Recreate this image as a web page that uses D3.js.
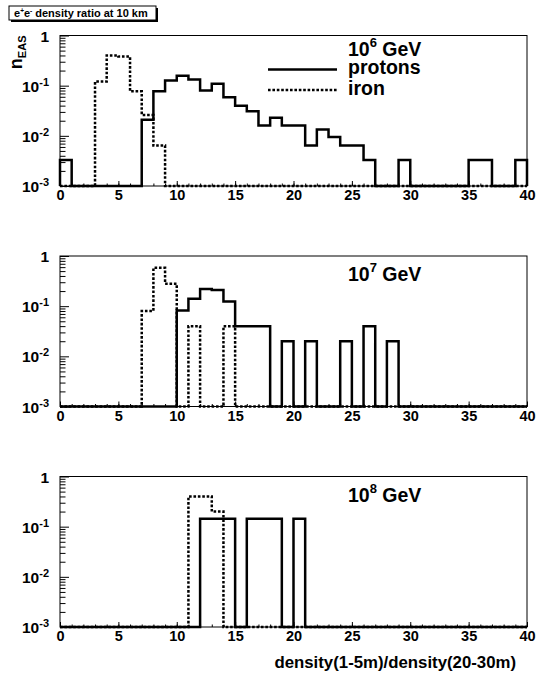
<!DOCTYPE html>
<html>
<head>
<meta charset="utf-8">
<script src="https://cdn.jsdelivr.net/npm/d3@7"></script>
<style>
body { margin: 0; background: #fff; }
svg text { font-family: "Liberation Sans", Arial, sans-serif; font-weight: bold; fill: #000; }
</style>
</head>
<body>
<div id="chart"></div>
<script>
// values per unit bin, 0..40 (n_EAS fraction)
const energyExp = ["6", "7", "8"];
const protons1e6 = [0.0033, 0, 0, 0, 0, 0, 0, 0.021, 0.077, 0.127,
                    0.157, 0.133, 0.08, 0.109, 0.059, 0.04, 0.031, 0.016, 0.023, 0.016,
                    0.016, 0.0064, 0.0134, 0.0095, 0.0064, 0.0064, 0.0033, 0, 0, 0.0033,
                    0, 0, 0, 0, 0, 0.0033, 0.0033, 0, 0, 0.0033];
const iron1e6    = [0, 0, 0, 0.121, 0.40, 0.38, 0.077, 0.026, 0.0064, 0,
                    0, 0, 0, 0, 0, 0, 0, 0, 0, 0,
                    0, 0, 0, 0, 0, 0, 0, 0, 0, 0,
                    0, 0, 0, 0, 0, 0, 0, 0, 0, 0];
const protons1e7 = [0, 0, 0, 0, 0, 0, 0, 0, 0, 0,
                    0.082, 0.14, 0.22, 0.21, 0.124, 0.04, 0.04, 0.04, 0, 0.02,
                    0, 0.02, 0, 0, 0.02, 0, 0.04, 0, 0.02, 0,
                    0, 0, 0, 0, 0, 0, 0, 0, 0, 0];
const iron1e7    = [0, 0, 0, 0, 0, 0, 0, 0.08, 0.58, 0.28,
                    0, 0.04, 0, 0, 0.04, 0, 0, 0, 0, 0,
                    0, 0, 0, 0, 0, 0, 0, 0, 0, 0,
                    0, 0, 0, 0, 0, 0, 0, 0, 0, 0];
const protons1e8 = [0, 0, 0, 0, 0, 0, 0, 0, 0, 0,
                    0, 0, 0.143, 0.143, 0.143, 0, 0.143, 0.143, 0.143, 0,
                    0.143, 0, 0, 0, 0, 0, 0, 0, 0, 0,
                    0, 0, 0, 0, 0, 0, 0, 0, 0, 0];
const iron1e8    = [0, 0, 0, 0, 0, 0, 0, 0, 0, 0,
                    0, 0.4, 0.4, 0.2, 0, 0, 0, 0, 0, 0,
                    0, 0, 0, 0, 0, 0, 0, 0, 0, 0,
                    0, 0, 0, 0, 0, 0, 0, 0, 0, 0];
const xTicks = [0, 5, 10, 15, 20, 25, 30, 35, 40];
const yTicks = [1, 0.1, 0.01, 0.001];
const yTickExp = ["", "-1", "-2", "-3"];
const legendLabels = ["protons", "iron"];
const xTitle = "density(1-5m)/density(20-30m)";

const panels = [
  {exp: energyExp[0], protons: protons1e6, iron: iron1e6, legend: true, labelY: 20},
  {exp: energyExp[1], protons: protons1e7, iron: iron1e7, labelY: 25},
  {exp: energyExp[2], protons: protons1e8, iron: iron1e8, labelY: 25}
];

const W = 537, H = 677;
const left = 60, right = 527, frameH = 150.5;
const tops = [35.5, 256, 476.5];
const yMin = 1e-3;
const dotted = "2.6,1.8";

const svg = d3.select("#chart").append("svg")
  .attr("width", W).attr("height", H);

svg.append("rect").attr("width", W).attr("height", H).attr("fill", "#fff");

// title pave with shadow
svg.append("rect").attr("x", 11).attr("y", 8).attr("width", 147).attr("height", 14).attr("fill", "#000");
svg.append("rect").attr("x", 9).attr("y", 6).attr("width", 147).attr("height", 14)
  .attr("fill", "#fff").attr("stroke", "#000").attr("stroke-width", 1);
const title = svg.append("text").attr("x", 14).attr("y", 17).style("font-size", "11px");
title.append("tspan").text("e");
title.append("tspan").attr("dy", -4).style("font-size", "6.5px").text("+");
title.append("tspan").attr("dy", 4).text("e");
title.append("tspan").attr("dy", -4).style("font-size", "6.5px").text("-");
title.append("tspan").attr("dy", 4).text(" density ratio at 10 km");

const x = d3.scaleLinear().domain([0, 40]).range([left, right]);

panels.forEach(function(p, i) {
  const g = svg.append("g").attr("transform", "translate(0," + tops[i] + ")");
  const y = d3.scaleLog().domain([yMin, 1]).range([frameH, 0]);

  g.append("rect")
    .attr("x", left).attr("y", 0)
    .attr("width", right - left).attr("height", frameH)
    .attr("fill", "none").attr("stroke", "#000").attr("stroke-width", 1);

  const line = d3.line()
    .x(function(d) { return x(d[0]); })
    .y(function(d) { return y(Math.max(d[1], yMin)); });

  function steps(vals) {
    const pts = [[0, 0]];
    vals.forEach(function(v, k) { pts.push([k, v]); pts.push([k + 1, v]); });
    pts.push([40, 0]);
    return pts;
  }

  g.append("path").attr("d", line(steps(p.iron)))
    .attr("fill", "none").attr("stroke", "#000").attr("stroke-width", 2.5)
    .attr("stroke-dasharray", dotted);
  g.append("path").attr("d", line(steps(p.protons)))
    .attr("fill", "none").attr("stroke", "#000").attr("stroke-width", 2.5)
    .attr("stroke-linejoin", "miter");

  // x axis: minor ticks every unit, major every 5
  g.append("g").attr("transform", "translate(0," + frameH + ")")
    .call(d3.axisBottom(x).tickValues(d3.range(0, 41)).tickSize(-2.5).tickFormat(""))
    .call(function(a) { a.select(".domain").remove(); });
  const xa = g.append("g").attr("transform", "translate(0," + frameH + ")")
    .call(d3.axisBottom(x).tickValues(xTicks).tickSize(-5).tickPadding(4).tickFormat(d3.format("d")));
  xa.select(".domain").remove();
  xa.selectAll("text").style("font-size", "14.5px");

  // y axis: log ticks
  const minors = [];
  [-3, -2, -1].forEach(function(d) {
    [2, 3, 4, 5, 6, 7, 8, 9].forEach(function(k) { minors.push(k * Math.pow(10, d)); });
  });
  g.append("g").attr("transform", "translate(" + left + ",0)")
    .call(d3.axisLeft(y).tickValues(minors).tickSize(-5.5).tickFormat(""))
    .call(function(a) { a.select(".domain").remove(); });
  g.append("g").attr("transform", "translate(" + left + ",0)")
    .call(d3.axisLeft(y).tickValues(yTicks).tickSize(-9).tickFormat(""))
    .call(function(a) { a.select(".domain").remove(); });

  yTicks.forEach(function(t, k) {
    const lab = g.append("text").attr("x", 49).attr("y", y(t) + 6)
      .attr("text-anchor", "end").style("font-size", "15.5px");
    if (yTickExp[k] === "") {
      lab.text("1");
    } else {
      lab.append("tspan").text("10");
      lab.append("tspan").attr("dy", -6).style("font-size", "11px").text(yTickExp[k]);
    }
  });

  // energy label
  const el = g.append("text").attr("x", 348).attr("y", p.labelY).style("font-size", "19.5px");
  el.append("tspan").text("10");
  el.append("tspan").attr("dy", -9).style("font-size", "13px").text(p.exp);
  el.append("tspan").attr("dy", 9).text(" GeV");

  if (p.legend) {
    [69.5, 90].forEach(function(ly, k) {
      g.append("line").attr("x1", 268).attr("x2", 337)
        .attr("y1", ly - tops[0]).attr("y2", ly - tops[0])
        .attr("stroke", "#000").attr("stroke-width", 2.5)
        .attr("stroke-dasharray", k === 1 ? dotted : null);
      g.append("text").attr("x", 348).attr("y", ly - tops[0] + 4.5)
        .style("font-size", "19.5px").text(legendLabels[k]);
    });
  }
});

// y title n_EAS
const yt = svg.append("text")
  .attr("transform", "translate(22," + tops[0] + ") rotate(-90)")
  .attr("text-anchor", "end").style("font-size", "18px");
yt.append("tspan").text("n");
yt.append("tspan").attr("dy", 4).style("font-size", "11px").text("EAS");

// x title
svg.append("text").attr("x", 516).attr("y", 668)
  .attr("text-anchor", "end").style("font-size", "16.8px").text(xTitle);
</script>
</body>
</html>
